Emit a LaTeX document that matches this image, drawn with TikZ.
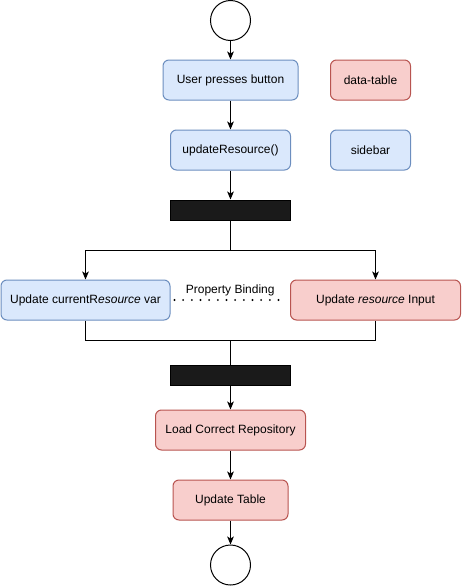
\documentclass[tikz,border=0pt]{standalone}
\usepackage{fontspec}
\setmainfont{Liberation Sans}
\usetikzlibrary{arrows.meta}
\definecolor{bluefill}{HTML}{DAE8FC}
\definecolor{bluedraw}{HTML}{6C8EBF}
\definecolor{redfill}{HTML}{F8CECC}
\definecolor{reddraw}{HTML}{B85450}
\definecolor{barfill}{HTML}{1A1A1A}
\begin{document}
\begin{tikzpicture}[x=0.75pt,y=-0.75pt,
  font=\fontsize{9}{11}\selectfont,
  every path/.style={line width=0.75pt},
  box/.style={rounded corners=4.5pt, minimum height=30pt, inner sep=0pt, line width=0.75pt},
  bluebox/.style={box, draw=bluedraw, fill=bluefill},
  redbox/.style={box, draw=reddraw, fill=redfill},
  barbox/.style={draw=black, fill=barfill, minimum width=90pt, minimum height=15pt, inner sep=0pt},
  termcircle/.style={draw=black, fill=white, circle, minimum size=30pt, inner sep=0pt},
  arr/.style={-{Stealth[length=6pt,width=5pt,inset=1.5pt]}},
  bind/.style={line width=1.6pt, dash pattern=on 0pt off 6.5pt, line cap=round, shorten <=3pt, shorten >=3pt}]
\useasboundingbox (0,0) rectangle (461,586);

\node[termcircle] (start) at (230.5,20.5) {};
\node[bluebox, minimum width=101.25pt] (press) at (230.5,80) {User presses button};
\node[redbox, minimum width=60pt] (dt) at (370.5,80) {data-table};
\node[bluebox, minimum width=90pt] (upd) at (230.5,150) {updateResource()};
\node[bluebox, minimum width=60pt] (sb) at (370.5,150) {sidebar};
\node[barbox] (bar1) at (230.5,210) {};
\node[bluebox, minimum width=126.75pt] (left) at (85.5,300) {Update current\textup{R}\textit{esource} var};
\node[redbox, minimum width=127.5pt] (right) at (375.5,300) {Update \textit{resource} Input};
\node[barbox] (bar2) at (230.5,375) {};
\node[redbox, minimum width=112.5pt] (load) at (230.5,430) {Load Correct Repository};
\node[redbox, minimum width=86.25pt] (tab) at (230.5,500) {Update Table};
\node[termcircle] (stop) at (230.5,565) {};

\coordinate (fork) at (230.5,250);
\coordinate (join) at (230.5,340);

\draw[arr] (start) -- (press);
\draw[arr] (press) -- (upd);
\draw[arr] (upd) -- (bar1);
\draw (bar1) -- (fork);
\draw[arr] (fork) -| (left);
\draw[arr] (fork) -| (right);
\draw[bind] (left) -- (right);
\path (left) -- (right) node[midway, above, inner sep=3pt] (bindlabel) {Property Binding};
\draw (left) |- (join);
\draw (right) |- (join);
\draw (join) -- (bar2);
\draw[arr] (bar2) -- (load);
\draw[arr] (load) -- (tab);
\draw[arr] (tab) -- (stop);
\end{tikzpicture}
\end{document}
